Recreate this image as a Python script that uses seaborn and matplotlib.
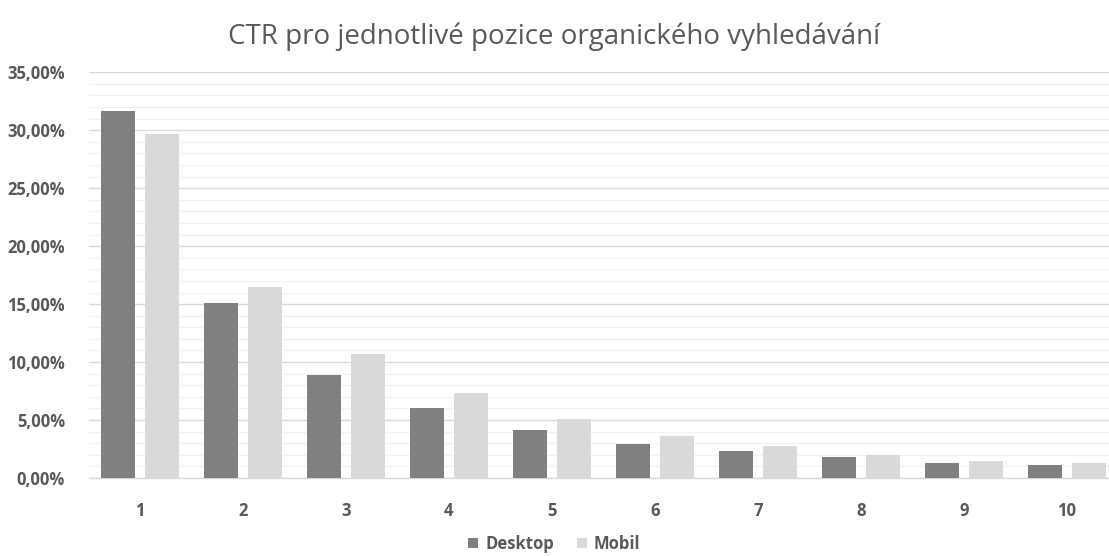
import matplotlib
matplotlib.use("Agg")
import matplotlib.pyplot as plt
import seaborn as sns
import pandas as pd
from matplotlib.ticker import FuncFormatter, MultipleLocator
from matplotlib.patches import Patch

positions = ["1", "2", "3", "4", "5", "6", "7", "8", "9", "10"]
desktop = [31.7, 15.1, 8.9, 6.0, 4.1, 2.9, 2.3, 1.8, 1.3, 1.1]
mobil = [29.7, 16.5, 10.7, 7.3, 5.1, 3.6, 2.8, 2.0, 1.5, 1.3]
series_names = ["Desktop", "Mobil"]
title = "CTR pro jednotlivé pozice organického vyhledávání"

df = pd.DataFrame({
    "Pozice": positions * 2,
    "CTR": [v / 100 for v in desktop] + [v / 100 for v in mobil],
    "Zařízení": [series_names[0]] * len(positions) + [series_names[1]] * len(positions),
})

sns.set_theme(style="white")
plt.rcParams["font.family"] = ["Open Sans", "DejaVu Sans"]

W, H = 1109, 556
fig = plt.figure(figsize=(W / 100, H / 100), dpi=100)
left_px, right_px, top_px, bottom_px = 88.5, 1109, 72.3, 478
ax = fig.add_axes([left_px / W, 1 - bottom_px / H, (right_px - left_px) / W, (bottom_px - top_px) / H])

sns.barplot(data=df, x="Pozice", y="CTR", hue="Zařízení", order=positions,
            palette={"Desktop": "#808080", "Mobil": "#D9D9D9"},
            width=0.84, gap=0.21, ax=ax, legend=False, zorder=3,
            edgecolor="none", linewidth=0)

cat_px = 103.0
ax.set_xlim(-0.5, -0.5 + (right_px - left_px) / cat_px)
ax.set_ylim(0, 0.35)
ax.yaxis.set_major_locator(MultipleLocator(0.05))
ax.yaxis.set_minor_locator(MultipleLocator(0.01))
ax.yaxis.set_major_formatter(FuncFormatter(lambda v, p: f"{v*100:.2f}%".replace(".", ",")))
ax.grid(axis="y", which="major", color="#D9D9D9", linewidth=1.0, zorder=0)
ax.grid(axis="y", which="minor", color="#F2F2F2", linewidth=1.0, zorder=0)
ax.grid(axis="x", visible=False)
ax.set_axisbelow(True)
for s in ["top", "right", "left"]:
    ax.spines[s].set_visible(False)
ax.spines["bottom"].set_color("#D9D9D9")
ax.spines["bottom"].set_linewidth(1.0)
ax.tick_params(axis="both", which="both", length=0)
ax.tick_params(axis="y", pad=17, labelsize=12, labelcolor="#595959")
ax.tick_params(axis="x", pad=17, labelsize=12, labelcolor="#595959")
for lab in ax.get_xticklabels() + ax.get_yticklabels():
    lab.set_fontweight("bold")
ax.set_xlabel("")
ax.set_ylabel("")

fig.text(0.5, 1 - 37 / H, title, ha="center", va="center", fontsize=20, color="#595959")

handles = [Patch(facecolor="#808080", edgecolor="none"), Patch(facecolor="#D9D9D9", edgecolor="none")]
leg = fig.legend(handles, series_names, loc="center", bbox_to_anchor=(0.5, 1 - 544 / H), ncol=2,
                 frameon=False, handlelength=0.6, handleheight=0.6, handletextpad=0.4,
                 columnspacing=1.4, prop={"size": 12, "weight": "bold"})
for t in leg.get_texts():
    t.set_color("#595959")

fig.savefig("out.png", dpi=100)
